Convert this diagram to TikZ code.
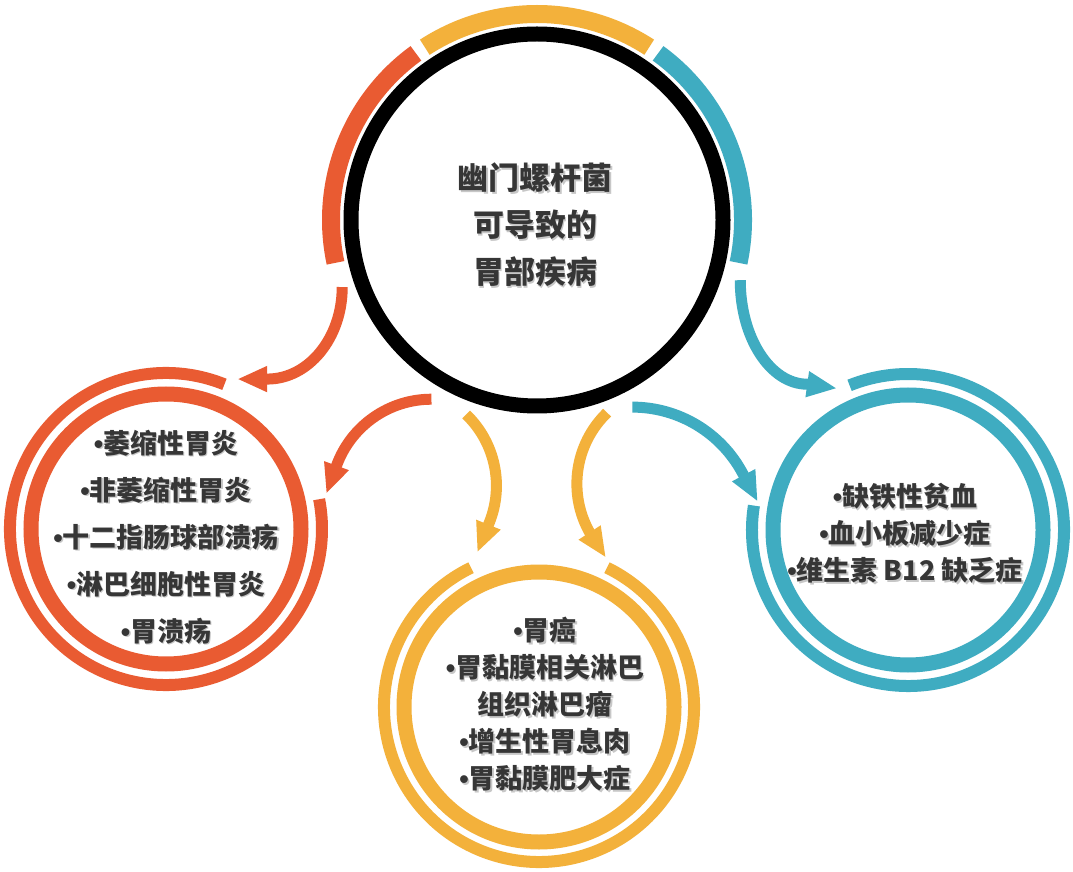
\documentclass[tikz,border=0pt]{standalone}
\usepackage{fontspec}
\setmainfont{Noto Sans CJK SC}
\newfontfamily\latf{Liberation Sans}
\newcommand\bul{{\latf •}}
\usetikzlibrary{arrows.meta}
\definecolor{cor}{HTML}{E95B32}
\definecolor{cyl}{HTML}{F3B13B}
\definecolor{ctl}{HTML}{3FACC1}
\definecolor{ctx}{HTML}{363636}
\newcommand\shtext[4]{%
  \node[#3, text=black!22, xshift=1.6pt, yshift=-1.6pt] (#1s) at (#2) {#4};
  \node[#3] (#1) at (#2) {#4};}
\begin{document}
\begin{tikzpicture}[x=1pt,y=1pt,
  ringo/.style={line width=12pt},
  ringi/.style={line width=15pt},
  band/.style={line width=18pt},
  shaft/.style={line width=11pt, -{Triangle[length=30pt,width=24pt]}},
  bigtxt/.style={font=\fontsize{31}{47}\selectfont\bfseries, align=center, text=ctx, inner sep=0pt},
  txtA/.style={font=\fontsize{27}{47}\selectfont\bfseries, align=center, text=ctx, inner sep=0pt},
  txtB/.style={font=\fontsize{27}{37}\selectfont\bfseries, align=center, text=ctx, inner sep=0pt},
]
\useasboundingbox[fill=white] (0,0) rectangle (1073,871);
\coordinate (C) at (537,651);
\coordinate (O) at (166,342);
\coordinate (T) at (908,341);
\coordinate (Y) at (539,164);

% central circle
\draw[line width=15pt, fill=white] (C) circle[radius=186];
\draw[cor, band] ([shift={(126:206)}]C) arc[start angle=126, end angle=192, radius=206];
\draw[cyl, band] ([shift={(57:206)}]C) arc[start angle=57, end angle=123, radius=206];
\draw[ctl, band] ([shift={(-12:206)}]C) arc[start angle=-12, end angle=54, radius=206];

% orange circle
\draw[cor, ringi] (O) circle[radius=135];
\draw[cor, ringo] ([shift={(68:156)}]O) arc[start angle=68, end angle=371, radius=156];
% teal circle
\draw[ctl, ringi] (T) circle[radius=135];
\draw[ctl, ringo] ([shift={(171:156)}]T) arc[start angle=171, end angle=472, radius=156];
% yellow circle
\draw[cyl, ringi] (Y) circle[radius=135];
\draw[cyl, ringo] ([shift={(116:155)}]Y) arc[start angle=116, end angle=424, radius=155];

% arrows
\draw[cor, shaft] ([shift={(199:206)}]C) arc[start angle=0, end angle=-90, x radius=75, y radius=92] -- ++(-30,0);
\draw[cor, shaft] ([shift={(239.5:208)}]C) arc[start angle=90, end angle=160, radius=101] -- ++(250:30);
\draw[ctl, shaft] ([shift={(-16.5:212)}]C) arc[start angle=180, end angle=270, x radius=67, y radius=104] -- ++(-8:30);
\draw[ctl, shaft] ([shift={(-63:210)}]C) arc[start angle=90, end angle=28, radius=125] -- ++(-62:32);
\draw[cyl, shaft] ([shift={(250:207)}]C) arc[start angle=46, end angle=-22, radius=99] -- ++(248:32);
\draw[cyl, shaft] ([shift={(-70:205)}]C) arc[start angle=134, end angle=210, radius=99] -- ++(-57:29);

% texts
\shtext{ct}{535,646}{bigtxt}{幽门螺杆菌\\可导致的\\胃部疾病}
\shtext{ot}{166,334}{txtA}{\bul{}萎缩性胃炎\\\bul{}非萎缩性胃炎\\\bul{}十二指肠球部溃疡\\\bul{}淋巴细胞性胃炎\\\bul{}胃溃疡}
\shtext{tt}{905,337.5}{txtB}{\bul{}缺铁性贫血\\\bul{}血小板减少症\\\bul{}维生素 B12 缺乏症}
\shtext{yt}{545,167}{txtB}{\bul{}胃癌\\\bul{}胃黏膜相关淋巴\\组织淋巴瘤\\\bul{}增生性胃息肉\\\bul{}胃黏膜肥大症}
\end{tikzpicture}
\end{document}
